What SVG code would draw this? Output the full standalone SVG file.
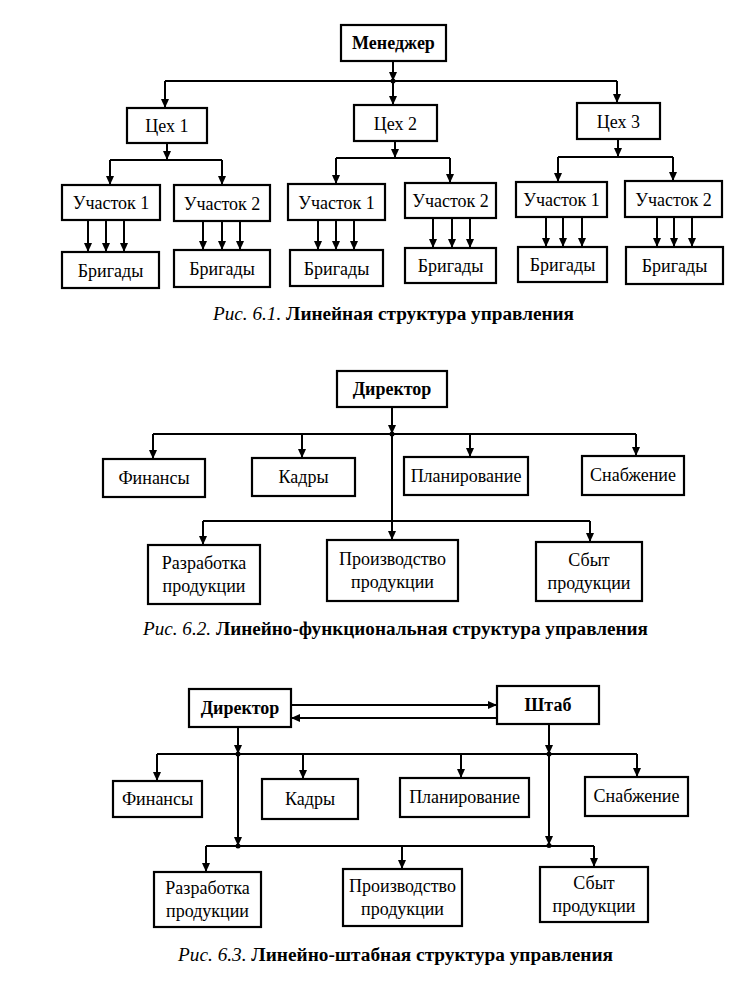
<svg xmlns="http://www.w3.org/2000/svg" width="731" height="994" viewBox="0 0 731 994">
<style>
.box{fill:#fff;stroke:#000;stroke-width:2.2}
.ln{fill:none;stroke:#000;stroke-width:2}
.ar{fill:none;stroke:#000;stroke-width:2;marker-end:url(#ah)}
.dot{fill:#000}
.t{font-family:"Liberation Serif","Times New Roman",serif;font-size:18px;text-anchor:middle;fill:#000}
.b{font-weight:bold}
.cap{font-family:"Liberation Serif","Times New Roman",serif;font-size:18px;font-weight:bold;fill:#000}
.it{font-style:italic;font-weight:normal}
</style>
<defs>
<marker id="ah" markerUnits="userSpaceOnUse" markerWidth="9" markerHeight="8" refX="9" refY="4" orient="auto">
<path d="M0,0 L9,4 L0,8 z" fill="#000"/>
</marker>
</defs>
<rect width="731" height="994" fill="#fff"/>

<!-- ===== Figure 6.1 ===== -->
<g id="connectors-61">
<path class="ar" d="M393,61 V81"/>
<path class="ln" d="M165,81 H617"/>
<circle class="dot" cx="393" cy="81" r="2.5"/>
<path class="ar" d="M165,81 V108"/>
<path class="ar" d="M393,81 V105"/>
<path class="ar" d="M617,81 V103"/>
<path class="ar" d="M167,143 V160"/>
<path class="ln" d="M110,160 H222"/>
<path class="ar" d="M110,160 V185"/>
<path class="ar" d="M222,160 V185"/>
<path class="ar" d="M395,141 V158"/>
<path class="ln" d="M336,158 H450"/>
<path class="ar" d="M336,158 V184"/>
<path class="ar" d="M450,158 V183"/>
<path class="ar" d="M618,139 V157"/>
<path class="ln" d="M558,157 H673"/>
<path class="ar" d="M558,157 V182"/>
<path class="ar" d="M673,157 V181"/>
<path class="ar" d="M88,220 V252"/><path class="ar" d="M106,220 V252"/><path class="ar" d="M124,220 V252"/>
<path class="ar" d="M203,221 V250"/><path class="ar" d="M222,221 V250"/><path class="ar" d="M240,221 V250"/>
<path class="ar" d="M318,220 V250"/><path class="ar" d="M336,220 V250"/><path class="ar" d="M354,220 V250"/>
<path class="ar" d="M433,218 V248"/><path class="ar" d="M452,218 V248"/><path class="ar" d="M470,218 V248"/>
<path class="ar" d="M546,217 V247"/><path class="ar" d="M563,217 V247"/><path class="ar" d="M582,217 V247"/>
<path class="ar" d="M657,217 V247"/><path class="ar" d="M674,217 V247"/><path class="ar" d="M692,217 V247"/>
</g>
<g id="n-manager"><rect class="box" x="341" y="25" width="105" height="36"/><text class="t b" x="393.5" y="49">Менеджер</text></g>
<g id="n-ceh1"><rect class="box" x="127" y="108" width="80" height="35"/><text class="t" x="167" y="131.5">Цех 1</text></g>
<g id="n-ceh2"><rect class="box" x="354" y="105" width="83" height="36"/><text class="t" x="395.5" y="129.5">Цех 2</text></g>
<g id="n-ceh3"><rect class="box" x="577" y="103" width="83" height="36"/><text class="t" x="618.5" y="127.5">Цех 3</text></g>
<g id="n-u1a"><rect class="box" x="62" y="185" width="98" height="35"/><text class="t" x="111" y="208.5">Участок 1</text></g>
<g id="n-u2a"><rect class="box" x="174" y="185" width="96" height="36"/><text class="t" x="222" y="209.5">Участок 2</text></g>
<g id="n-u1b"><rect class="box" x="288" y="184" width="97" height="36"/><text class="t" x="336.5" y="208.5">Участок 1</text></g>
<g id="n-u2b"><rect class="box" x="405" y="183" width="91" height="35"/><text class="t" x="450.5" y="206.5">Участок 2</text></g>
<g id="n-u1c"><rect class="box" x="516" y="182" width="91" height="35"/><text class="t" x="561.5" y="205.5">Участок 1</text></g>
<g id="n-u2c"><rect class="box" x="625" y="181" width="97" height="36"/><text class="t" x="673.5" y="205.5">Участок 2</text></g>
<g id="n-b1"><rect class="box" x="62" y="252" width="97" height="36"/><text class="t" x="110.5" y="276.5">Бригады</text></g>
<g id="n-b2"><rect class="box" x="174" y="250" width="96" height="37"/><text class="t" x="222" y="274.5">Бригады</text></g>
<g id="n-b3"><rect class="box" x="290" y="250" width="93" height="36"/><text class="t" x="336.5" y="274.5">Бригады</text></g>
<g id="n-b4"><rect class="box" x="405" y="248" width="91" height="35"/><text class="t" x="450.5" y="271.5">Бригады</text></g>
<g id="n-b5"><rect class="box" x="518" y="247" width="89" height="35"/><text class="t" x="562.5" y="270.5">Бригады</text></g>
<g id="n-b6"><rect class="box" x="626" y="247" width="97" height="37"/><text class="t" x="674.5" y="271.5">Бригады</text></g>
<text class="cap" x="213" y="320" textLength="361" lengthAdjust="spacingAndGlyphs"><tspan class="it">Рис. 6.1.</tspan> Линейная структура управления</text>

<!-- ===== Figure 6.2 ===== -->
<g id="connectors-62">
<path class="ar" d="M392,407 V434"/>
<path class="ln" d="M153,434 H636"/>
<circle class="dot" cx="392" cy="434" r="2.5"/>
<path class="ar" d="M153,434 V459"/>
<path class="ar" d="M302,434 V458"/>
<path class="ar" d="M470,434 V457"/>
<path class="ar" d="M636,434 V456"/>
<path class="ln" d="M392,434 V521"/>
<path class="ln" d="M203,521 H590"/>
<path class="ar" d="M203,521 V545"/>
<path class="ar" d="M392,521 V540"/>
<path class="ar" d="M590,521 V542"/>
</g>
<g id="n-dir2"><rect class="box" x="337" y="371" width="110" height="36"/><text class="t b" x="392" y="395">Директор</text></g>
<g id="n-fin2"><rect class="box" x="103" y="459" width="102" height="38"/><text class="t" x="154" y="484">Финансы</text></g>
<g id="n-kad2"><rect class="box" x="252" y="458" width="103" height="38"/><text class="t" x="303.5" y="483">Кадры</text></g>
<g id="n-plan2"><rect class="box" x="404" y="457" width="124" height="38"/><text class="t" x="466" y="482">Планирование</text></g>
<g id="n-snab2"><rect class="box" x="582" y="456" width="102" height="39"/><text class="t" x="633" y="481">Снабжение</text></g>
<g id="n-razr2"><rect class="box" x="148" y="545" width="112" height="59"/><text class="t" x="204" y="569">Разработка</text><text class="t" x="204" y="592">продукции</text></g>
<g id="n-proizv2"><rect class="box" x="327" y="540" width="131" height="61"/><text class="t" x="392.5" y="565">Производство</text><text class="t" x="392.5" y="588">продукции</text></g>
<g id="n-sbyt2"><rect class="box" x="536" y="542" width="106" height="59"/><text class="t" x="589" y="566">Сбыт</text><text class="t" x="589" y="589">продукции</text></g>
<text class="cap" x="143" y="635" textLength="505" lengthAdjust="spacingAndGlyphs"><tspan class="it">Рис. 6.2.</tspan> Линейно-функциональная структура управления</text>

<!-- ===== Figure 6.3 ===== -->
<g id="connectors-63">
<path class="ar" d="M291,705 H497"/>
<path class="ar" d="M497,718 H291"/>
<path class="ar" d="M238,727 V754"/>
<path class="ar" d="M549,724 V754"/>
<path class="ln" d="M157,754 H637"/>
<circle class="dot" cx="238" cy="754" r="2.5"/>
<circle class="dot" cx="549" cy="754" r="2.5"/>
<path class="ar" d="M157,754 V781"/>
<path class="ar" d="M303,754 V779"/>
<path class="ar" d="M461,754 V778"/>
<path class="ar" d="M637,754 V777"/>
<path class="ar" d="M238,754 V846"/>
<path class="ar" d="M549,754 V845"/>
<path class="ln" d="M206,846 H594"/>
<circle class="dot" cx="238" cy="846" r="2.5"/>
<circle class="dot" cx="549" cy="845.5" r="2.5"/>
<path class="ar" d="M206,846 V872"/>
<path class="ar" d="M402,846 V869"/>
<path class="ar" d="M594,846 V867"/>
</g>
<g id="n-dir3"><rect class="box" x="189" y="689" width="102" height="38"/><text class="t b" x="240" y="714">Директор</text></g>
<g id="n-shtab3"><rect class="box" x="497" y="686" width="102" height="38"/><text class="t b" x="548" y="711">Штаб</text></g>
<g id="n-fin3"><rect class="box" x="113" y="781" width="89" height="36"/><text class="t" x="157.5" y="805">Финансы</text></g>
<g id="n-kad3"><rect class="box" x="262" y="779" width="96" height="40"/><text class="t" x="310" y="805">Кадры</text></g>
<g id="n-plan3"><rect class="box" x="400" y="778" width="129" height="39"/><text class="t" x="464.5" y="803">Планирование</text></g>
<g id="n-snab3"><rect class="box" x="585" y="777" width="103" height="39"/><text class="t" x="636.5" y="802">Снабжение</text></g>
<g id="n-razr3"><rect class="box" x="154" y="872" width="107" height="55"/><text class="t" x="207.5" y="894">Разработка</text><text class="t" x="207.5" y="917">продукции</text></g>
<g id="n-proizv3"><rect class="box" x="343" y="869" width="119" height="57"/><text class="t" x="402.5" y="892">Производство</text><text class="t" x="402.5" y="915">продукции</text></g>
<g id="n-sbyt3"><rect class="box" x="540" y="867" width="108" height="55"/><text class="t" x="594" y="889">Сбыт</text><text class="t" x="594" y="912">продукции</text></g>
<text class="cap" x="178" y="961" textLength="435" lengthAdjust="spacingAndGlyphs"><tspan class="it">Рис. 6.3.</tspan> Линейно-штабная структура управления</text>
</svg>
